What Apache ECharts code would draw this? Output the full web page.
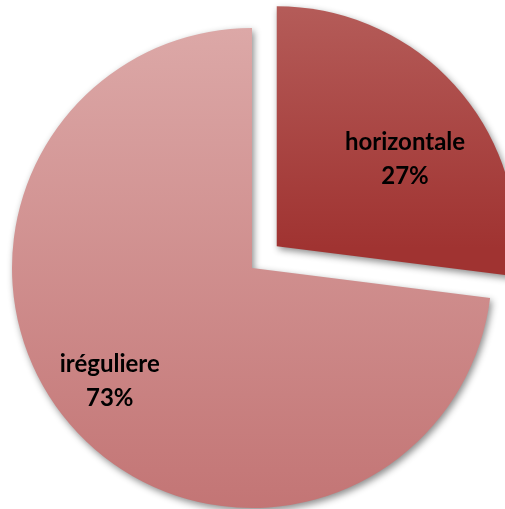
<!DOCTYPE html>
<html>
<head>
<meta charset="utf-8">
<script src="https://cdn.jsdelivr.net/npm/echarts@6/dist/echarts.min.js"></script>
<style>
  html, body { margin: 0; padding: 0; background: #ffffff; }
  #chart { width: 505px; height: 509px; }
</style>
</head>
<body>
<div id="chart"></div>
<script>
// Slice names and their shares (percent)
const categories = ['horizontale', 'iréguliere'];
const values = [27, 73];
const explodedSlices = ['horizontale'];

// Label nudges from the default inside position, per slice
const labelShift = [[36, -6], [-50, 32]];

const fills = [
  { top: '#b65f5c', bottom: '#a03331', y0: 8, y1: 270 },
  { top: '#dca8a7', bottom: '#c37575', y0: 28, y1: 508 }
];

const chart = echarts.init(document.getElementById('chart'));

const data = categories.map((name, i) => ({
  name: name,
  value: values[i],
  selected: explodedSlices.includes(name),
  itemStyle: {
    color: {
      type: 'linear', global: true,
      x: 0, y: fills[i].y0, x2: 0, y2: fills[i].y1,
      colorStops: [
        { offset: 0, color: fills[i].top },
        { offset: 1, color: fills[i].bottom }
      ]
    }
  }
}));

chart.setOption({
  animation: false,
  series: [{
    type: 'pie',
    center: [252, 268],
    radius: 240,
    startAngle: 90,
    clockwise: true,
    selectedMode: 'multiple',
    selectedOffset: 33,
    avoidLabelOverlap: false,
    data: data,
    itemStyle: {
      borderWidth: 0,
      shadowBlur: 7,
      shadowColor: 'rgba(0,0,0,0.45)',
      shadowOffsetX: 2,
      shadowOffsetY: 3
    },
    label: {
      show: true,
      position: 'inside',
      formatter: p => p.name + '\n' + p.value + '%',
      fontFamily: 'Lato',
      fontWeight: 'bold',
      fontSize: 24,
      lineHeight: 34,
      color: '#000000',
      align: 'center'
    },
    labelLine: { show: false },
    labelLayout: function (params) {
      const s = labelShift[params.dataIndex];
      return { dx: s[0], dy: s[1] };
    },
    emphasis: { disabled: true }
  }]
});
</script>
</body>
</html>
